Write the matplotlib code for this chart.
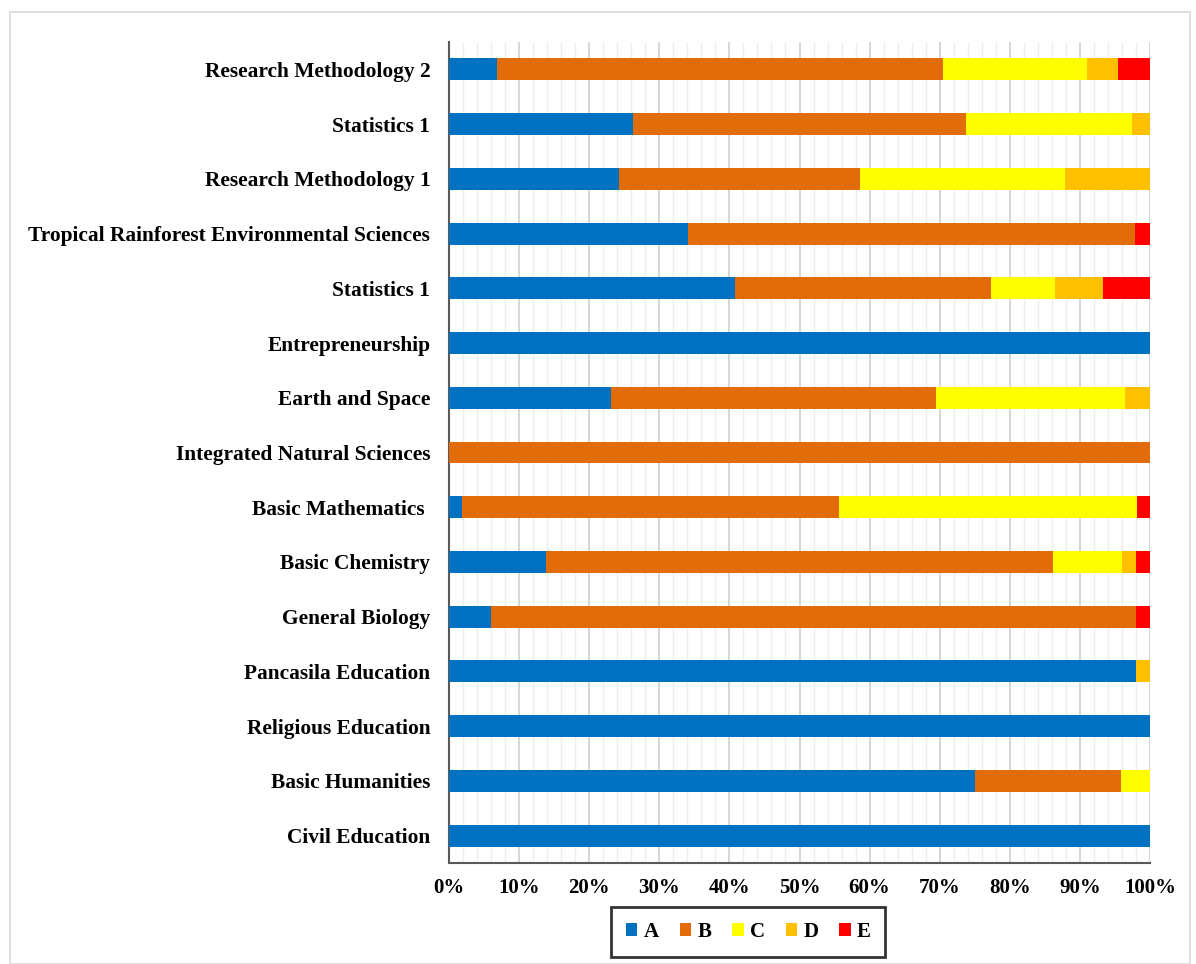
import numpy as np
import matplotlib.pyplot as plt
from matplotlib.patches import Rectangle
from matplotlib.ticker import MultipleLocator, PercentFormatter

# courses, bottom to top
courses = [
    'Civil Education', 'Basic Humanities', 'Religious Education',
    'Pancasila Education', 'General Biology', 'Basic Chemistry',
    'Basic Mathematics ', 'Integrated Natural Sciences', 'Earth and Space',
    'Entrepreneurship', 'Statistics 1',
    'Tropical Rainforest Environmental Sciences', 'Research Methodology 1',
    'Statistics 1', 'Research Methodology 2',
]

# grade shares (%) per course, same order as courses
grade_a = [100, 75.0, 100, 98.0, 6.0, 13.9, 1.8, 0, 23.1, 100, 40.8, 34.1, 24.3, 26.2, 6.8]
grade_b = [0, 20.9, 0, 0, 92.0, 72.2, 53.9, 100, 46.4, 0, 36.5, 63.7, 34.3, 47.5, 63.6]
grade_c = [0, 4.1, 0, 0, 0, 9.9, 42.4, 0, 27.0, 0, 9.1, 0, 29.3, 23.7, 20.6]
grade_d = [0, 0, 0, 2.0, 0, 2.0, 0, 0, 3.5, 0, 6.9, 0, 12.1, 2.6, 4.5]
grade_e = [0, 0, 0, 0, 2.0, 2.0, 1.9, 0, 0, 0, 6.7, 2.2, 0, 0, 4.5]

grades = ['A', 'B', 'C', 'D', 'E']
colors = ['#0070C0', '#E36C0A', '#FFFF00', '#FFC000', '#FF0000']

plt.rcParams['font.family'] = ['Liberation Serif', 'DejaVu Serif']
plt.rcParams['font.weight'] = 'bold'

fig = plt.figure(figsize=(11.96, 9.64), dpi=100)
ax = fig.add_axes([449 / 1196, 1 - 863 / 964, (1150 - 449) / 1196, (863 - 42) / 964])

# light frame around the whole chart
fig.patches.append(Rectangle((10 / 1196, 0), 1180 / 1196, 1 - 12 / 964,
                             transform=fig.transFigure, fill=False,
                             edgecolor='#d9d9d9', linewidth=1.2))

y = np.arange(len(courses))
data = np.array([grade_a, grade_b, grade_c, grade_d, grade_e])
totals = data.sum(axis=0)
data = data / totals * 100

left = np.zeros(len(courses))
for vals, name, col in zip(data, grades, colors):
    ax.barh(y, vals, left=left, height=0.4, color=col, label=name, zorder=3)
    left += vals

ax.set_xlim(0, 100)
ax.set_ylim(-0.5, len(courses) - 0.5)
ax.set_yticks(y)
ax.set_yticklabels(courses, fontsize=15.4, fontweight='bold')
ax.xaxis.set_major_locator(MultipleLocator(10))
ax.xaxis.set_minor_locator(MultipleLocator(2))
ax.xaxis.set_major_formatter(PercentFormatter(decimals=0))
for lab in ax.get_xticklabels():
    lab.set_fontsize(15)
    lab.set_fontweight('bold')

ax.grid(axis='x', which='major', color='#d0d0d0', linewidth=1.2, zorder=0)
ax.grid(axis='x', which='minor', color='#eeeeee', linewidth=1.0, zorder=0)
ax.tick_params(axis='both', which='both', length=0)
ax.tick_params(axis='y', pad=13.5)
ax.tick_params(axis='x', pad=11)

for s in ['top', 'right']:
    ax.spines[s].set_visible(False)
for s in ['left', 'bottom']:
    ax.spines[s].set_color('#595959')
    ax.spines[s].set_linewidth(1.5)

leg = ax.legend(loc='upper center', bbox_to_anchor=(0.427, -0.054), ncol=5,
                frameon=True, fancybox=False, handlelength=0.55, handleheight=0.55,
                handletextpad=0.3, columnspacing=1.0, borderpad=0.7,
                borderaxespad=0, prop={'weight': 'bold', 'size': 15})
leg.get_frame().set_edgecolor('black')
leg.get_frame().set_linewidth(2)

fig.savefig('out.png', dpi=100)
